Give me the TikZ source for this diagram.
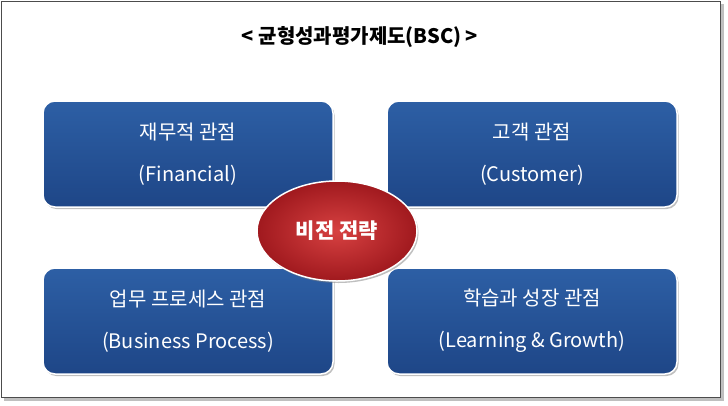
\documentclass[tikz,border=0pt]{standalone}
\usepackage{fontspec}
\setmainfont{Noto Sans CJK KR}
\usetikzlibrary{positioning,shadows,shapes.geometric}

\begin{document}
\begin{tikzpicture}[x=1pt,y=-1pt,
  viewbox/.style={draw=white,line width=1.5pt,rounded corners=12pt,
    top color=boxtop,bottom color=boxbottom,
    drop shadow={shadow xshift=1.5pt,shadow yshift=-2pt,opacity=0.5},
    minimum width=290pt,minimum height=106pt,align=center,
    text=white,font=\fontsize{20}{42}\selectfont},
  visionbox/.style={ellipse,draw=white,line width=1.5pt,
    inner color=redin,outer color=redout,
    drop shadow={shadow xshift=1.5pt,shadow yshift=-2pt,opacity=0.5},
    minimum width=160pt,minimum height=100pt,
    text=white,font=\bfseries\fontsize{21}{24}\selectfont}]

\definecolor{boxtop}{RGB}{45,95,165}
\definecolor{boxbottom}{RGB}{30,70,135}
\definecolor{redin}{RGB}{215,65,65}
\definecolor{redout}{RGB}{160,25,30}

\fill[white] (0,0) rectangle (728,405);
\fill[black!25] (4,4) rectangle (724,401);
\draw[black!70,fill=white] (1,1) rectangle (720,397);

\node[font=\bfseries\fontsize{20}{24}\selectfont] (title) at (360,37) {< 균형성과평가제도(BSC) >};

\node[viewbox] (finance) at (188,154) {재무적 관점\\(Financial)};
\node[viewbox] (customer) at (532,154) {고객 관점\\(Customer)};
\node[viewbox] (process) at (188,321) {업무 프로세스 관점\\(Business Process)};
\node[viewbox] (growth) at (532,321) {학습과 성장 관점\\(Learning \& Growth)};

\node[visionbox] (vision) at (337,231) {비전 전략};

\end{tikzpicture}
\end{document}
